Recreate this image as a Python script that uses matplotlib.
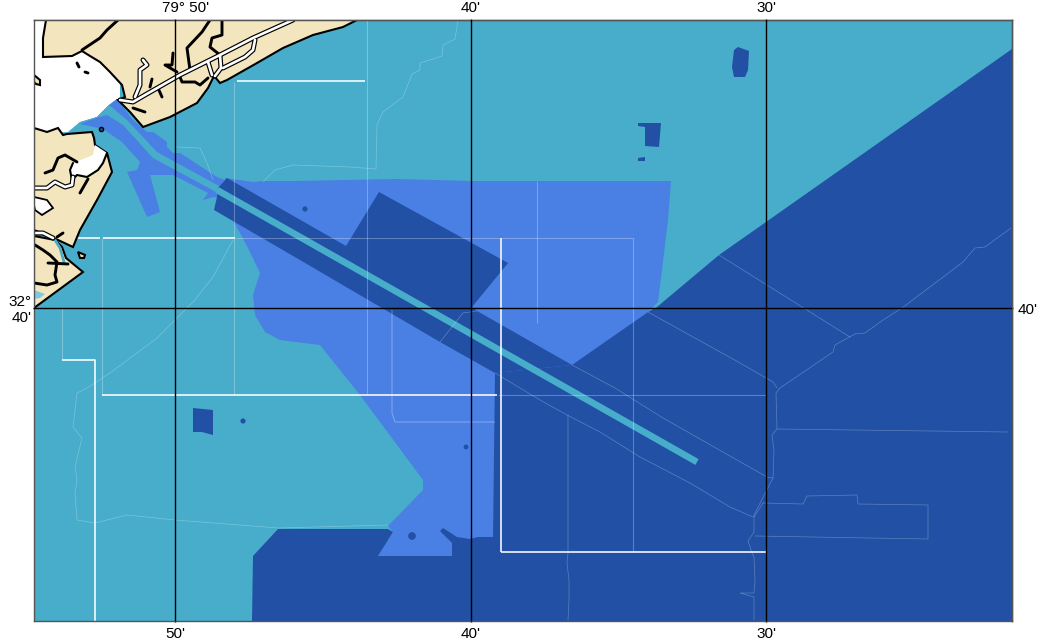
import numpy as np
import matplotlib
matplotlib.use('Agg')
import matplotlib.pyplot as plt
from matplotlib.transforms import ScaledTranslation

plt.rcParams['font.family'] = ['Liberation Sans', 'DejaVu Sans']

lon_ticks = [175, 471, 766]
lat_ticks = [308]
top_labels = ["79° 50'", "40'", "30'"]
bottom_labels = ["50'", "40'", "30'"]
left_labels = ["32°\n40'"]
right_labels = ["40'"]

harbor = [(34, 20), (120, 20), (120, 99), (117, 99), (109, 105), (97, 117), (80, 122), (68, 132), (34, 134)]

land_north = [(46, 20), (43, 38), (43, 57), (72, 56), (82, 51), (90, 56), (100, 62), (110, 72), (122, 85), (125, 97),
              (118, 100), (130, 112), (143, 127), (170, 117), (197, 103), (208, 88), (213, 78), (215, 77), (220, 83),
              (227, 80), (257, 63), (283, 48), (313, 35), (343, 27), (357, 20)]
land_middle = [(34, 128), (47, 132), (58, 128), (63, 135), (67, 134), (92, 132), (94, 138), (95, 145), (107, 153),
               (112, 172), (97, 200), (80, 230), (73, 247), (58, 240), (53, 238), (34, 230)]
land_south = [(34, 236), (55, 240), (62, 247), (66, 258), (83, 272), (34, 308)]
islet_west = [(34, 75), (40, 80), (40, 85), (36, 84), (34, 82)]
islet_south = [(78, 252), (85, 255), (84, 258), (80, 258)]
inlet_white = [(95, 145), (107, 153), (103, 163), (98, 170), (87, 177), (77, 175), (72, 180), (70, 170), (73, 163), (93, 155)]
inlet_shore = [(107, 153), (103, 163), (98, 170), (87, 177), (77, 175), (72, 180), (70, 170), (73, 163)]
marsh_white = [(34, 197), (47, 200), (53, 208), (42, 215), (35, 210), (34, 205)]
marsh_teal = [(34, 290), (45, 294), (40, 298), (34, 299)]

shelf_mid = [(225, 178), (253, 182), (263, 181), (295, 181), (397, 179), (471, 181), (671, 181), (668, 220), (662, 270),
             (658, 302), (648, 312), (572, 366), (497, 375), (493, 537), (452, 556), (378, 556), (393, 532), (388, 526),
             (423, 490), (423, 480), (360, 395), (320, 345), (280, 340), (265, 332), (255, 315), (253, 295), (260, 273),
             (248, 248), (233, 220), (227, 205)]
channel_mid = [(117, 99), (132, 119), (147, 132), (153, 132), (167, 142), (167, 147), (173, 153), (180, 153), (217, 177),
               (225, 180), (233, 200), (213, 197), (203, 200), (208, 193), (173, 175), (150, 175), (160, 212), (147, 217),
               (127, 172), (137, 170), (140, 162), (122, 142), (103, 129), (80, 124), (97, 117), (109, 105)]
channel_teal = [(68, 132), (80, 122), (97, 117), (109, 105), (127, 120), (157, 152), (219, 186), (216, 192), (153, 158),
                (123, 125), (107, 115), (96, 118), (78, 124)]

deep = [(1012, 49), (766, 222), (719, 255), (657, 307), (648, 312), (572, 365), (495, 373), (493, 537), (478, 537),
        (470, 539), (457, 537), (443, 528), (440, 531), (452, 543), (452, 556), (378, 556), (393, 532), (388, 529),
        (278, 529), (253, 556), (252, 621), (1012, 621)]
dredged_band = [(227, 178), (346, 246), (379, 192), (508, 263), (472, 307), (477, 311), (572, 365), (495, 373),
                (440, 342), (300, 260), (214, 210), (217, 197), (218, 188)]
range_bar = [(217, 190), (300, 237), (697, 462)]

deep_patches = [
    [(734, 50), (738, 47), (749, 51), (748, 70), (745, 77), (734, 77), (732, 67)],
    [(638, 123), (661, 123), (659, 147), (645, 146), (645, 127), (638, 126)],
    [(638, 158), (645, 157), (645, 161), (638, 161)],
    [(193, 408), (213, 410), (213, 435), (202, 432), (193, 432)],
]
spot_x = [243, 305, 466, 412]
spot_y = [421, 209, 447, 536]
spot_sizes = [14, 14, 12, 30]

white_lines = [
    [(237, 81), (365, 81)],
    [(33, 238), (100, 238)],
    [(103, 238), (235, 238)],
    [(102, 395), (497, 395)],
    [(62, 360), (95, 360), (95, 621)],
    [(501, 552), (766, 552)],
    [(501, 238), (501, 552)],
]
faint_lines = [
    [(234, 82), (234, 395)],
    [(367, 20), (367, 395)],
    [(102, 238), (102, 395)],
    [(62, 308), (62, 360)],
    [(235, 238), (633, 238)],
    [(633, 238), (633, 552)],
    [(537, 181), (537, 323)],
    [(392, 310), (392, 413), (395, 422), (495, 422)],
    [(498, 395), (766, 395)],
]
depth_lines = [
    [(263, 182), (275, 170), (293, 165), (350, 167), (376, 169), (377, 125), (383, 112), (403, 97), (412, 74), (420, 70),
     (420, 63), (442, 56), (443, 45), (455, 39), (458, 20)],
    [(177, 147), (200, 148), (207, 163), (213, 180)],
    [(233, 240), (213, 277), (193, 302), (175, 320), (157, 338), (110, 373), (87, 388), (77, 393), (73, 427), (82, 438),
     (75, 467), (77, 480), (75, 493), (77, 520), (95, 523), (127, 515), (175, 520), (278, 528), (388, 525)],
    [(572, 365), (615, 388), (663, 418), (767, 477), (773, 478)],
    [(495, 373), (540, 400), (567, 415), (600, 432), (640, 457), (690, 483), (730, 507), (753, 517)],
    [(648, 312), (713, 348), (740, 363), (773, 382), (777, 388)],
    [(719, 255), (850, 337)],
    [(1011, 228), (985, 247), (975, 248), (963, 262), (902, 308), (883, 320), (865, 333), (855, 334), (835, 345),
     (833, 352), (780, 388), (776, 393), (777, 429), (772, 435), (774, 450), (773, 478), (754, 515), (754, 532),
     (748, 541), (752, 553), (754, 557), (755, 580), (754, 593), (740, 593), (754, 597), (754, 620)],
    [(777, 429), (1008, 432)],
    [(763, 503), (754, 517)],
    [(763, 503), (803, 504), (807, 496), (857, 495), (858, 504), (928, 505), (928, 539), (755, 536)],
    [(568, 415), (568, 553), (567, 563), (569, 580), (569, 600), (568, 620)],
    [(440, 342), (463, 313), (477, 311)],
]

waterways = [
    [(120, 100), (133, 102), (145, 95), (180, 75), (220, 55), (253, 38), (293, 20)],
    [(220, 55), (221, 68), (215, 76)],
    [(255, 40), (253, 50), (245, 57), (223, 68)],
    [(208, 62), (212, 75)],
    [(143, 60), (147, 65), (140, 70), (140, 85), (135, 97)],
    [(34, 188), (47, 188), (55, 182), (65, 187), (72, 185), (73, 177)],
    [(34, 233), (43, 233), (53, 238)],
]
creeks = [
    [(222, 20), (222, 35), (212, 38), (210, 47), (220, 55)],
    [(210, 20), (202, 32), (187, 48), (190, 70)],
    [(173, 53), (172, 65), (165, 65), (177, 72)],
    [(180, 77), (182, 82), (195, 82), (200, 85), (208, 78)],
    [(152, 79), (150, 87)],
    [(162, 97), (158, 88)],
    [(133, 108), (145, 112)],
    [(77, 63), (79, 67)],
    [(85, 72), (88, 73)],
    [(82, 50), (100, 38), (107, 30), (118, 20)],
    [(45, 173), (53, 170), (58, 158), (65, 155), (77, 162)],
    [(88, 179), (80, 193)],
    [(57, 237), (63, 233)],
    [(35, 245), (43, 250), (50, 255), (57, 262), (55, 275), (57, 282), (47, 285), (34, 283)],
    [(48, 263), (68, 264)],
]
tidal_teal = [(55, 240), (60, 248), (64, 262)]

teal = '#47adcb'
mid_blue = '#4a7fe4'
deep_blue = '#2150a5'
sand = '#f3e6be'

fig = plt.figure(figsize=(10.43, 6.43), dpi=100)
ax = fig.add_axes([34 / 1043, 1 - 621 / 643, 978 / 1043, 601 / 643])
ax.set_facecolor(teal)


def fill(points, color, z=1.0, edge='none', lw=0):
    pts = np.array(points)
    ax.fill(pts[:, 0], pts[:, 1], facecolor=color, edgecolor=edge, linewidth=lw, zorder=z)


def trace(points, color, lw, z=1.5, alpha=1.0, cap='round'):
    pts = np.array(points)
    ax.plot(pts[:, 0], pts[:, 1], color=color, lw=lw, zorder=z, alpha=alpha, solid_capstyle=cap)


fill(harbor, 'white', 1.0)
fill(shelf_mid, mid_blue, 1.1)
fill(channel_mid, mid_blue, 1.1)
fill(channel_teal, teal, 1.15)
fill(deep, deep_blue, 1.2)
fill(dredged_band, deep_blue, 1.2)
for patch in deep_patches:
    fill(patch, deep_blue, 1.2)
ax.scatter(spot_x, spot_y, s=spot_sizes, color=deep_blue, linewidths=0, zorder=1.25)
trace(range_bar, teal, 4.8, 1.3, cap='butt')

for line in faint_lines:
    trace(line, 'white', 0.8, 1.4, alpha=0.28, cap='butt')
for line in depth_lines:
    trace(line, 'white', 0.5, 1.4, alpha=0.28)
for line in white_lines:
    trace(line, 'white', 1.2, 1.45, alpha=0.95, cap='butt')

for shape in [land_north, land_middle, land_south, islet_west, islet_south]:
    fill(shape, sand, 1.7, edge='black', lw=1.5)
fill(inlet_white, 'white', 1.75)
fill(marsh_white, 'white', 1.75, edge='black', lw=1.3)
fill(marsh_teal, '#7fc8e2', 1.75)
trace(tidal_teal, teal, 2.0, 1.8)
trace(inlet_shore, 'black', 1.5, 1.8)

for creek in creeks:
    trace(creek, 'black', 2.1, 1.9)
for way in waterways:
    trace(way, 'black', 3.6, 1.95)
for way in waterways:
    trace(way, 'white', 1.9, 1.96)
ax.plot([101], [129], marker='o', ms=3, mfc=deep_blue, mec='black', mew=1.0, zorder=1.9)

ax.set_xlim(34, 1012)
ax.set_ylim(621, 20)
ax.set_xticks(lon_ticks)
ax.set_xticklabels(bottom_labels)
ax.set_yticks(lat_ticks)
ax.set_yticklabels(left_labels, linespacing=1.15)
ax.grid(True, color='black', lw=1.0)
ax.set_axisbelow(False)
ax.tick_params(axis='x', length=1, width=1, labelsize=11, pad=3)
ax.tick_params(axis='y', length=1, width=1, labelsize=11, pad=0.5)

top = ax.secondary_xaxis('top')
top.set_xticks(lon_ticks)
top.set_xticklabels(top_labels)
top.tick_params(length=1, width=1, labelsize=11, pad=2.5)
# the degree part hangs left of the gridline
first = top.get_xticklabels()[0]
first.set_transform(first.get_transform() + ScaledTranslation(11 / 100, 0, fig.dpi_scale_trans))

right = ax.secondary_yaxis('right')
right.set_yticks(lat_ticks)
right.set_yticklabels(right_labels)
right.tick_params(length=1, width=1, labelsize=11, pad=3)

for axis in [ax, top, right]:
    for spine in axis.spines.values():
        spine.set_color('#555555')
        spine.set_linewidth(1.0)

fig.savefig('out.png', dpi=100)
